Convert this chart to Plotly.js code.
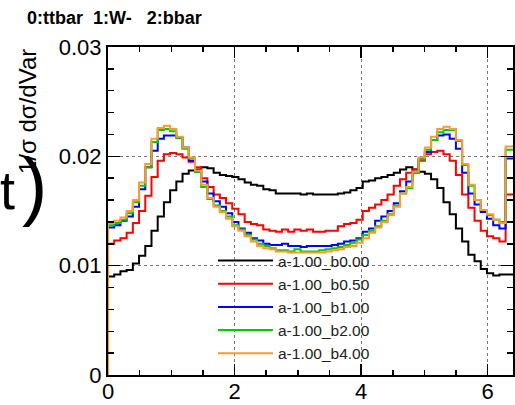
<!DOCTYPE html>
<html><head><meta charset="utf-8">
<script src="https://cdn.plot.ly/plotly-3.0.1.min.js"></script>
<style>html,body{margin:0;padding:0;background:#fff}#chart{width:515px;height:405px}</style>
</head><body><div id="chart"></div>
<script>
// ---------------- data ----------------
const seriesNames = ['a-1.00_b0.00', 'a-1.00_b0.50', 'a-1.00_b1.00', 'a-1.00_b2.00', 'a-1.00_b4.00'];
const histLow = 0;
const histHigh = 2 * Math.PI;
const nBins = 64;
const axisHigh = 6.4;

const b000 = [0.0090, 0.0092, 0.0095, 0.0096, 0.0102, 0.0109, 0.0118, 0.0132, 0.0145, 0.0158, 0.0169, 0.0177, 0.0184, 0.0187, 0.0188, 0.0190,
  0.0189, 0.0185, 0.0183, 0.0182, 0.0181, 0.0179, 0.0176, 0.0174, 0.0173, 0.0170, 0.0169, 0.0166, 0.0166, 0.0166, 0.0166, 0.0165,
  0.0166, 0.0165, 0.0165, 0.0165, 0.0165, 0.0166, 0.0167, 0.0169, 0.0171, 0.0177, 0.0178, 0.0180, 0.0181, 0.0183, 0.0185, 0.0188,
  0.0190, 0.0188, 0.0186, 0.0184, 0.0179, 0.0171, 0.0158, 0.0147, 0.0134, 0.0122, 0.0110, 0.0104, 0.0097, 0.0093, 0.0091, 0.0092];
const b050 = [0.0120, 0.0123, 0.0125, 0.0130, 0.0139, 0.0150, 0.0164, 0.0181, 0.0196, 0.0202, 0.0203, 0.0202, 0.0199, 0.0195, 0.0190, 0.0180,
  0.0172, 0.0165, 0.0162, 0.0157, 0.0152, 0.0147, 0.0140, 0.0138, 0.0137, 0.0133, 0.0132, 0.0131, 0.0133, 0.0131, 0.0133, 0.0132,
  0.0133, 0.0131, 0.0131, 0.0132, 0.0132, 0.0136, 0.0138, 0.0139, 0.0142, 0.0150, 0.0153, 0.0156, 0.0160, 0.0165, 0.0173, 0.0179,
  0.0185, 0.0188, 0.0196, 0.0202, 0.0204, 0.0205, 0.0202, 0.0196, 0.0183, 0.0165, 0.0153, 0.0141, 0.0132, 0.0127, 0.0125, 0.0122];
const b100 = [0.0135, 0.0137, 0.0141, 0.0145, 0.0154, 0.0170, 0.0190, 0.0205, 0.0216, 0.0219, 0.0219, 0.0217, 0.0208, 0.0196, 0.0186, 0.0177,
  0.0166, 0.0159, 0.0154, 0.0148, 0.0140, 0.0134, 0.0130, 0.0125, 0.0123, 0.0120, 0.0119, 0.0119, 0.0120, 0.0118, 0.0118, 0.0117,
  0.0118, 0.0118, 0.0118, 0.0118, 0.0119, 0.0120, 0.0122, 0.0123, 0.0125, 0.0131, 0.0134, 0.0141, 0.0145, 0.0150, 0.0157, 0.0168,
  0.0177, 0.0185, 0.0198, 0.0204, 0.0215, 0.0219, 0.0220, 0.0216, 0.0207, 0.0185, 0.0166, 0.0156, 0.0149, 0.0143, 0.0137, 0.0134];
const b200 = [0.0137, 0.0139, 0.0142, 0.0148, 0.0158, 0.0173, 0.0190, 0.0213, 0.0224, 0.0225, 0.0223, 0.0217, 0.0207, 0.0198, 0.0186, 0.0172,
  0.0161, 0.0155, 0.0150, 0.0145, 0.0137, 0.0133, 0.0128, 0.0124, 0.0120, 0.0118, 0.0116, 0.0114, 0.0114, 0.0113, 0.0115, 0.0113,
  0.0113, 0.0113, 0.0114, 0.0115, 0.0116, 0.0117, 0.0119, 0.0121, 0.0124, 0.0128, 0.0132, 0.0136, 0.0141, 0.0147, 0.0155, 0.0166,
  0.0171, 0.0185, 0.0197, 0.0206, 0.0215, 0.0222, 0.0224, 0.0224, 0.0214, 0.0192, 0.0173, 0.0160, 0.0151, 0.0146, 0.0142, 0.0140];
const b400 = [0.0139, 0.0141, 0.0144, 0.0150, 0.0160, 0.0176, 0.0193, 0.0216, 0.0226, 0.0228, 0.0225, 0.0218, 0.0208, 0.0199, 0.0187, 0.0174,
  0.0162, 0.0154, 0.0149, 0.0143, 0.0136, 0.0132, 0.0127, 0.0122, 0.0118, 0.0116, 0.0115, 0.0113, 0.0113, 0.0112, 0.0112, 0.0112,
  0.0112, 0.0112, 0.0112, 0.0113, 0.0114, 0.0115, 0.0117, 0.0118, 0.0121, 0.0125, 0.0130, 0.0135, 0.0140, 0.0146, 0.0154, 0.0166,
  0.0172, 0.0186, 0.0199, 0.0208, 0.0218, 0.0225, 0.0227, 0.0225, 0.0215, 0.0193, 0.0174, 0.0160, 0.0151, 0.0147, 0.0142, 0.0139];
// content drawn past 2*pi up to the frame
const overflowValues = [0.0092, 0.0165, 0.0198, 0.0206, 0.0209];

const xTickVals = [0, 2, 4, 6];
const yTickVals = [0, 0.01, 0.02, 0.03];
const headerText = '0:ttbar\u00a0\u00a01:W-\u00a0\u00a0\u00a02:bbar';
const yTitleText = '1/\u03c3 d\u03c3/dVar';

// ---------------- style ----------------
const seriesColors = ['#000000', '#ff0000', '#0000ff', '#00cc00', '#ff9933'];
const FONT = 'Liberation Sans, Arial, Helvetica, sans-serif';
const W = 515, H = 405;
const M = {l: 108, r: 2, t: 47, b: 30};
const PW = W - M.l - M.r, PH = H - M.t - M.b;
const px2x = p => (p - M.l) / PW;
const py2y = p => (M.t + PH - p) / PH;

const allSeries = [b000, b050, b100, b200, b400];
const binW = (histHigh - histLow) / nBins;

const traces = allSeries.map((vals, k) => {
  const xs = [histLow];
  const ys = [0];
  vals.forEach((v, i) => { xs.push(histLow + i * binW); ys.push(v); });
  xs.push(histHigh); ys.push(overflowValues[k]);
  xs.push(axisHigh); ys.push(overflowValues[k]);
  return {
    type: 'scatter', mode: 'lines', name: seriesNames[k],
    x: xs, y: ys,
    line: {shape: 'hv', color: seriesColors[k], width: 2},
    hoverinfo: 'skip'
  };
});

const axisCommon = {
  ticks: 'inside', tickcolor: '#000', tickwidth: 1.5,
  showline: true, linewidth: 2, linecolor: '#000', mirror: 'ticks',
  showgrid: true, gridcolor: '#777', griddash: 'dot', gridwidth: 1,
  zeroline: false, fixedrange: true,
  tickfont: {family: FONT, size: 22, color: '#000'}
};

const layout = {
  width: W, height: H,
  margin: {l: M.l, r: M.r, t: M.t, b: M.b, pad: 0},
  paper_bgcolor: '#ffffff', plot_bgcolor: '#ffffff',
  font: {family: FONT, color: '#000'},
  showlegend: true,
  legend: {
    x: px2x(213), y: py2y(244), xanchor: 'left', yanchor: 'top',
    bgcolor: 'rgba(0,0,0,0)', borderwidth: 0,
    font: {family: FONT, size: 15.5, color: '#222'},
    itemwidth: 55, traceorder: 'normal', tracegroupgap: 0
  },
  xaxis: Object.assign({}, axisCommon, {
    range: [histLow, axisHigh], tickmode: 'array', tickvals: xTickVals,
    ticklen: 11, ticklabelstandoff: -4,
    minor: {dtick: 0.5, tick0: 0, ticks: 'inside', ticklen: 5, tickcolor: '#000', tickwidth: 1.5, showgrid: false}
  }),
  yaxis: Object.assign({}, axisCommon, {
    range: [0, 0.03], tickmode: 'array', tickvals: yTickVals,
    ticktext: yTickVals.map(v => v === 0 ? '0' : v.toFixed(2)),
    ticklen: 12,
    minor: {dtick: 0.002, tick0: 0, ticks: 'inside', ticklen: 6, tickcolor: '#000', tickwidth: 1.5, showgrid: false}
  }),
  annotations: [
    {text: '<b>' + headerText + '</b>', xref: 'paper', yref: 'paper', x: px2x(25), y: py2y(18),
     xanchor: 'left', yanchor: 'middle', showarrow: false, font: {family: FONT, size: 18, color: '#000'}},
    {text: yTitleText, xref: 'paper', yref: 'paper', x: px2x(28), y: py2y(112), textangle: -90,
     xanchor: 'center', yanchor: 'middle', showarrow: false, font: {family: FONT, size: 24, color: '#000'}},
    {text: 't', xref: 'paper', yref: 'paper', x: px2x(-2), y: py2y(190),
     xanchor: 'left', yanchor: 'middle', showarrow: false, font: {family: FONT, size: 54, color: '#000'}},
    {text: ')', xref: 'paper', yref: 'paper', x: px2x(20), y: py2y(184),
     xanchor: 'left', yanchor: 'middle', showarrow: false, font: {family: FONT, size: 76, color: '#000'}}
  ]
};

Plotly.newPlot('chart', traces, layout, {staticPlot: true, displayModeBar: false});
</script>
</body></html>
